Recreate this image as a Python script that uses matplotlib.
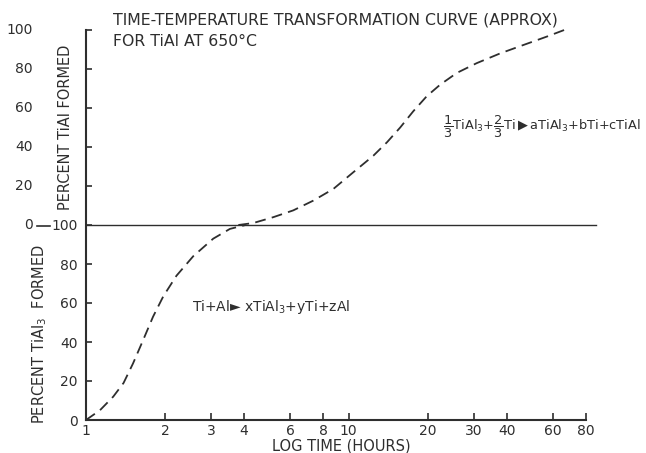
import matplotlib
matplotlib.use("Agg")
import matplotlib.pyplot as plt
from matplotlib.lines import Line2D

plt.rcParams['font.family'] = ['DejaVu Sans']

W, H = 646, 453
INK = '#2e2e2e'

# TiAl3 formed (lower panel, 0..100)
tial3_hours = [1.0, 1.13, 1.27, 1.39, 1.51, 1.65, 1.80, 1.97, 2.21, 2.56, 3.05, 3.53, 4.05]
tial3_pct = [0, 5, 12, 19, 29, 41, 53, 63.5, 74, 84, 93, 98, 100]

# TiAl formed (upper panel, 0..100, drawn above the 100 line)
tial_hours = [3.8, 4.33, 5.16, 6.15, 7.33, 8.74, 10.4, 12.4, 14.0, 15.7, 17.6, 19.8,
              22.3, 25.8, 30.7, 37.7, 46.2, 56.7, 67.6]
tial_pct = [0, 1, 4, 7.5, 12.5, 18.5, 27, 35.5, 42.5, 50, 58.3, 66, 72, 78, 83, 88,
            92.3, 96.6, 100.5]

x_ticks = [1, 2, 3, 4, 6, 8, 10, 20, 30, 40, 60, 80]
lower_ticks = [0, 20, 40, 60, 80]
upper_ticks = [20, 40, 60, 80, 100]


def px(x, y):
    return x / W, 1 - y / H


fig = plt.figure(figsize=(W / 100, H / 100), dpi=100)
ax = fig.add_axes([86 / W, 33 / H, 500 / W, 390 / H])

ax.set_xscale('log')
ax.set_xlim(1, 80)
ax.set_ylim(0, 200)

# curves
ax.plot(tial3_hours, tial3_pct, ls=(0, (6, 3.5)), color=INK, lw=1.3, clip_on=False)
ax.plot(tial_hours, [100 + v for v in tial_pct], ls=(0, (6, 3.5)), color=INK, lw=1.3, clip_on=False)

# dividing line at 100
ax.plot([1, 87.5], [100, 100], color=INK, lw=1.0, clip_on=False)

for s in ['top', 'right']:
    ax.spines[s].set_visible(False)
for s in ['left', 'bottom']:
    ax.spines[s].set_linewidth(1.5)
    ax.spines[s].set_color(INK)

ax.set_xticks(x_ticks)
ax.set_xticklabels([str(t) for t in x_ticks])
ax.xaxis.set_minor_locator(matplotlib.ticker.NullLocator())
ax.tick_params(axis='x', direction='in', length=5, width=1.2, colors=INK,
               labelsize=10, pad=3)

yt = lower_ticks + [100] + [100 + t for t in upper_ticks]
ax.set_yticks(yt)
ax.set_yticklabels([str(t) for t in lower_ticks] + ['100'] + [''] * len(upper_ticks))
ax.tick_params(axis='y', direction='in', length=4, width=1.2, colors=INK,
               labelsize=10, pad=6)

# upper panel tick labels, further left
for t in [0] + upper_ticks:
    ax.text(-53 / 500, 100 + t, str(t), transform=ax.get_yaxis_transform(),
            ha='right', va='center', fontsize=10, color=INK)
fig.add_artist(Line2D([37 / W, 50 / W], [1 - 226 / H] * 2, color=INK, lw=1.2))

# axis labels
fig.text(*px(65, 127), 'PERCENT TiAl FORMED', rotation=90, ha='center', va='center',
         fontsize=10.5, color=INK)
fig.text(*px(40, 334), 'PERCENT TiAl$_3$  FORMED', rotation=90, ha='center', va='center',
         fontsize=10.5, color=INK)
fig.text(*px(341, 446), 'LOG TIME (HOURS)', ha='center', va='center', fontsize=10.5, color=INK)

# title
fig.text(*px(113, 20), 'TIME-TEMPERATURE TRANSFORMATION CURVE (APPROX)', ha='left',
         va='center', fontsize=11.3, color=INK)
fig.text(*px(113, 42), 'FOR TiAl AT 650\u00b0C', ha='left', va='center', fontsize=11.3, color=INK)

# reaction notes
ax.text(2.53, 58, 'Ti+Al\u25ba xTiAl$_3$+yTi+zAl', ha='left', va='center',
        fontsize=10, color=INK)
ax.text(22.9, 150.5, r'$\dfrac{1}{3}$TiAl$_3$+$\dfrac{2}{3}$Ti$\blacktriangleright$aTiAl$_3$+bTi+cTiAl',
        ha='left', va='center', fontsize=9.3, color=INK, clip_on=False)

fig.savefig('out.png', dpi=100, facecolor='white')
